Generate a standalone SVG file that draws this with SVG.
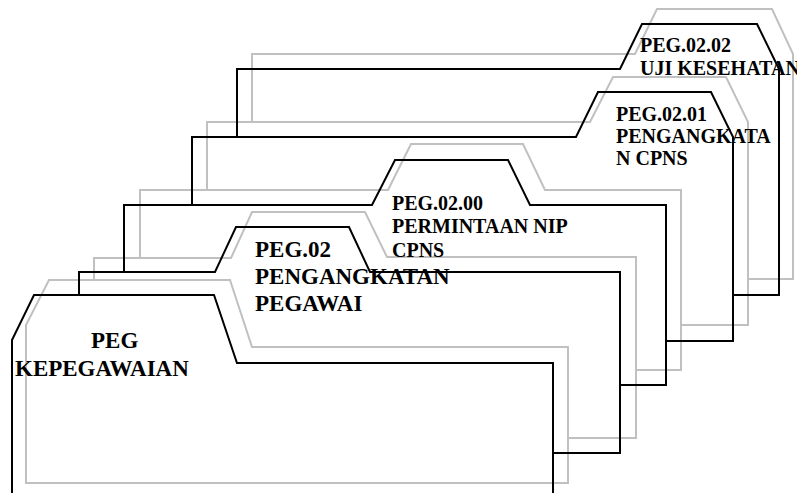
<svg xmlns="http://www.w3.org/2000/svg" width="797" height="493" viewBox="0 0 797 493">
<style>
.b{fill:none;stroke:#000;stroke-width:2;stroke-linejoin:miter}
.g{fill:none;stroke:#c0c0c0;stroke-width:2;stroke-linejoin:miter}
text{font-family:"Liberation Serif","Times New Roman",serif;font-weight:bold;fill:#000}
.t1{font-size:23px}
.t2{font-size:20px}
</style>
<rect width="797" height="493" fill="#fff"/>
<g id="connectors">
<path class="g" d="M252,122 L252,54 L635,54 L657,9 L772,9 L793,54 L793,279 L748,279"/>
<path class="g" d="M207,190 L207,122 L590,122 L613,77 L726,77 L748,122 L748,325 L681,325"/>
<path class="g" d="M140,257 L140,190 L388,190 L411,144 L523,144 L545,190 L681,190 L681,370 L636,370"/>
<path class="g" d="M94,280 L94,258 L231,258 L252,212 L365,212 L387,257 L636,257 L636,438 L568,438"/>
<path class="g" d="M26,483 L26,325 L49,280 L230,280 L252,347 L568,347 L568,483 Z"/>
<path class="b" d="M237,137 L237,69 L620,69 L642,24 L757,24 L779,69 L779,295 L733,295"/>
<path class="b" d="M192,205 L192,137 L576,137 L598,92 L711,92 L733,137 L733,341 L666,341"/>
<path class="b" d="M124,272 L124,205 L372,205 L395,160 L508,160 L530,205 L666,205 L666,385 L620,385"/>
<path class="b" d="M79,295 L79,272 L215,272 L236,227 L349,227 L370,272 L620,272 L620,453 L553,453"/>
<path class="b" d="M12,496 L12,340 L34,295 L214,295 L237,363 L553,363 L553,496"/>
</g>
<g id="node-peg">
<text class="t1" x="91" y="348">PEG</text>
<text class="t1" x="15" y="376">KEPEGAWAIAN</text>
</g>
<g id="node-peg02">
<text class="t1" x="255" y="257">PEG.02</text>
<text class="t1" x="255" y="284">PENGANGKATAN</text>
<text class="t1" x="255" y="311">PEGAWAI</text>
</g>
<g id="node-peg0200">
<text class="t2" x="392" y="210">PEG.02.00</text>
<text class="t2" x="392" y="233">PERMINTAAN NIP</text>
<text class="t2" x="392" y="257">CPNS</text>
</g>
<g id="node-peg0201">
<text class="t2" x="616" y="121">PEG.02.01</text>
<text class="t2" x="616" y="143">PENGANGKATA</text>
<text class="t2" x="616" y="165">N CPNS</text>
</g>
<g id="node-peg0202">
<text class="t2" x="640" y="52">PEG.02.02</text>
<text class="t2" x="640" y="75">UJI KESEHATAN</text>
</g>
</svg>
